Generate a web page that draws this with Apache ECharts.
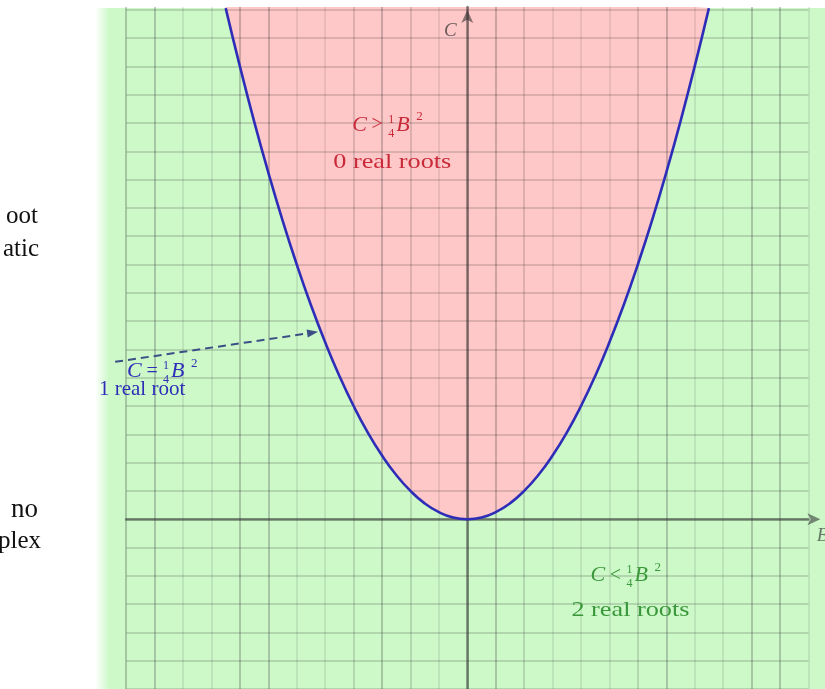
<!DOCTYPE html>
<html>
<head>
<meta charset="utf-8">
<script src="https://cdn.jsdelivr.net/npm/echarts@6/dist/echarts.min.js"></script>
<style>
  html, body { margin: 0; padding: 0; background: #ffffff; }
  #chart { width: 825px; height: 689px; }
</style>
</head>
<body>
<div id="chart"></div>
<script>
// Roots of x^2 + Bx + C = 0 in the (B, C) plane: the boundary is C = B^2 / 4.
const bValues = [-8.5, -8, -7.5, -7, -6.5, -6, -5.5, -5, -4.5, -4, -3.5, -3, -2.5, -2, -1.5, -1, -0.5,
                 0, 0.5, 1, 1.5, 2, 2.5, 3, 3.5, 4, 4.5, 5, 5.5, 6, 6.5, 7, 7.5, 8, 8.5];
const cValues = [18.06, 16, 14.06, 12.25, 10.56, 9, 7.56, 6.25, 5.06, 4, 3.06, 2.25, 1.56, 1, 0.56, 0.25, 0.06,
                 0, 0.06, 0.25, 0.56, 1, 1.56, 2.25, 3.06, 4, 5.06, 6.25, 7.56, 9, 10.56, 12.25, 14.06, 16, 18.06];
const bRange = [-12, 12];
const cRange = [-6, 18.1];

// Region captions
const captionAbove = { op: '>', text: '0 real roots' };
const captionOn = { op: '=', text: '1 real root' };
const captionBelow = { op: '<', text: '2 real roots' };
const axisNames = ['B', 'C'];
const sideWords = ['oot', 'atic', 'no', 'plex'];

// Where captions sit, in (B, C) units
const anchors = {
  aboveFormula: [-4.05, 13.93],
  aboveText: [-2.64, 12.62],
  belowFormula: [4.33, -1.99],
  belowText: [5.74, -3.24],
  onFormula: [-11.97, 5.22],
  onText: [-11.44, 4.6],
  arrowFrom: [-12.39, 5.56],
  arrowTo: [-5.25, 6.62],
  cName: [-0.6, 17.25],
  bName: [12.5, -0.6]
};

const SERIF = '"Liberation Serif", "Times New Roman", serif';
const GREEN_BG = '#cdf9c9';
const PINK = '#ffc8c8';
const RED = '#c92a3a';
const GREEN_TXT = '#3a983a';
const BLUE = '#2d2db8';
const AXISLINE = 'rgba(40,40,40,0.55)';

// Ruled sheet: some rulings print heavier than others
const RULE_S = 'rgba(40,40,40,0.30)';
const RULE_M = 'rgba(40,40,40,0.20)';
const RULE_F = 'rgba(40,40,40,0.12)';
const verticalRules = [
  RULE_S, RULE_S, RULE_F, RULE_F, RULE_S, RULE_S, RULE_F, RULE_F, RULE_M, RULE_S, RULE_M, RULE_F, RULE_M,
  RULE_S, RULE_M, RULE_F, RULE_F, RULE_F, RULE_M, RULE_S, RULE_F, RULE_F, RULE_S, RULE_S, RULE_F
];
const horizontalRule = 'rgba(40,40,40,0.22)';

const curve = bValues.map((b, i) => [b, cValues[i]]);

const chart = echarts.init(document.getElementById('chart'), null, { renderer: 'canvas' });

function axisBase(ruleColor, arrowShift, showMax) {
  return {
    type: 'value',
    interval: 1,
    z: 3,
    axisTick: { show: false },
    axisLabel: { show: false },
    axisLine: {
      show: true, onZero: true,
      symbol: ['none', 'arrow'], symbolSize: [9, 13], symbolOffset: [0, arrowShift],
      lineStyle: { color: AXISLINE, width: 2.5 }
    },
    splitLine: {
      show: true,
      showMinLine: true,
      showMaxLine: showMax,
      lineStyle: { color: ruleColor, width: 1.6 }
    }
  };
}

chart.setOption({
  animation: false,
  backgroundColor: '#ffffff',
  grid: { left: 126.2, right: 16.6, top: 6.96, bottom: -2.4, containLabel: false },
  xAxis: Object.assign(axisBase(verticalRules, 12, true), { min: bRange[0], max: bRange[1] }),
  yAxis: Object.assign(axisBase(horizontalRule, -3, false), { min: cRange[0], max: cRange[1] }),
  series: [
    {
      // region above the parabola
      type: 'line', data: curve, smooth: true, symbol: 'none', z: 1, silent: true,
      lineStyle: { width: 0 },
      areaStyle: { origin: 'end', color: PINK, opacity: 1 }
    },
    {
      // the parabola itself
      type: 'line', data: curve, smooth: true, symbol: 'none', z: 4, clip: false, silent: true,
      lineStyle: { color: BLUE, width: 2.6 }
    }
  ]
});

const px = (p) => chart.convertToPixel({ gridIndex: 0 }, p);

function txt(x, y, text, opts) {
  const style = Object.assign({
    text: text,
    fontFamily: SERIF,
    fontSize: 20,
    fill: '#000',
    align: 'left',
    verticalAlign: 'middle'
  }, opts.style || {});
  style.textAlign = style.align;
  style.textVerticalAlign = style.verticalAlign;
  return Object.assign({ type: 'text', x: x, y: y, z: 10, silent: true, style: style }, opts.el || {});
}

function formula(anchor, op, color) {
  const [x, y] = px(anchor);
  const s = (extra) => ({ style: Object.assign({ fill: color }, extra) });
  return {
    type: 'group', x: x, y: y, z: 10, silent: true,
    children: [
      txt(0, 0, 'C', s({ fontSize: 22, fontStyle: 'italic' })),
      txt(25, 0, op, s({ fontSize: 20, align: 'center' })),
      txt(39, -5.5, '1', s({ fontSize: 12, align: 'center' })),
      txt(39, 8.5, '4', s({ fontSize: 12, align: 'center' })),
      txt(44, 0, 'B', s({ fontSize: 22, fontStyle: 'italic' })),
      txt(64, -8, '2', s({ fontSize: 13 }))
    ]
  };
}

function caption(anchor, text, color, stretch) {
  const [x, y] = px(anchor);
  return txt(x, y, text, {
    style: { fill: color, fontSize: 21, align: 'center' },
    el: { scaleX: stretch }
  });
}

function dashedArrow(from, to, color) {
  const [x0, y0] = px(from);
  const [x1, y1] = px(to);
  const ang = Math.atan2(y1 - y0, x1 - x0);
  const len = 11, half = 4;
  const bx = x1 - len * Math.cos(ang), by = y1 - len * Math.sin(ang);
  const nx = -Math.sin(ang), ny = Math.cos(ang);
  return [
    {
      type: 'line', z: 10, silent: true,
      shape: { x1: x0, y1: y0, x2: bx, y2: by },
      style: { stroke: color, lineWidth: 2, lineDash: [8, 5] }
    },
    {
      type: 'polygon', z: 10, silent: true,
      shape: { points: [[x1, y1], [bx + nx * half, by + ny * half], [bx - nx * half, by - ny * half]] },
      style: { fill: color }
    }
  ];
}

const cPos = px(anchors.cName);
const bPos = px(anchors.bName);

chart.setOption({
  graphic: {
    elements: [
      // plotting sheet
      { type: 'rect', z: -10, silent: true, shape: { x: 108, y: 8, width: 717, height: 681 }, style: { fill: GREEN_BG } },
      {
        type: 'rect', z: -9, silent: true, shape: { x: 95, y: 8, width: 14, height: 681 },
        style: {
          fill: new echarts.graphic.LinearGradient(0, 0, 1, 0, [
            { offset: 0, color: 'rgba(205,249,201,0)' },
            { offset: 1, color: GREEN_BG }
          ])
        }
      },
      // surrounding page text
      txt(38, 216.5, sideWords[0], { style: { fontSize: 25, align: 'right', fill: '#111' } }),
      txt(39, 249.5, sideWords[1], { style: { fontSize: 25, align: 'right', fill: '#111' } }),
      txt(38, 509.5, sideWords[2], { style: { fontSize: 27, align: 'right', fill: '#111' } }),
      txt(41, 541.5, sideWords[3], { style: { fontSize: 25, align: 'right', fill: '#111' } }),
      // axis names
      txt(cPos[0], cPos[1], axisNames[1], { style: { fontSize: 19, fontStyle: 'italic', align: 'center', fill: '#6a5a5a' } }),
      txt(bPos[0], bPos[1], axisNames[0], { style: { fontSize: 19, fontStyle: 'italic', align: 'center', fill: '#667866' } }),
      // region captions
      formula(anchors.aboveFormula, captionAbove.op, RED),
      caption(anchors.aboveText, captionAbove.text, RED, 1.25),
      formula(anchors.belowFormula, captionBelow.op, GREEN_TXT),
      caption(anchors.belowText, captionBelow.text, GREEN_TXT, 1.25),
      formula(anchors.onFormula, captionOn.op, BLUE),
      caption(anchors.onText, captionOn.text, BLUE, 1.0)
    ].concat(dashedArrow(anchors.arrowFrom, anchors.arrowTo, '#3b4f86'))
  }
});
</script>
</body>
</html>
